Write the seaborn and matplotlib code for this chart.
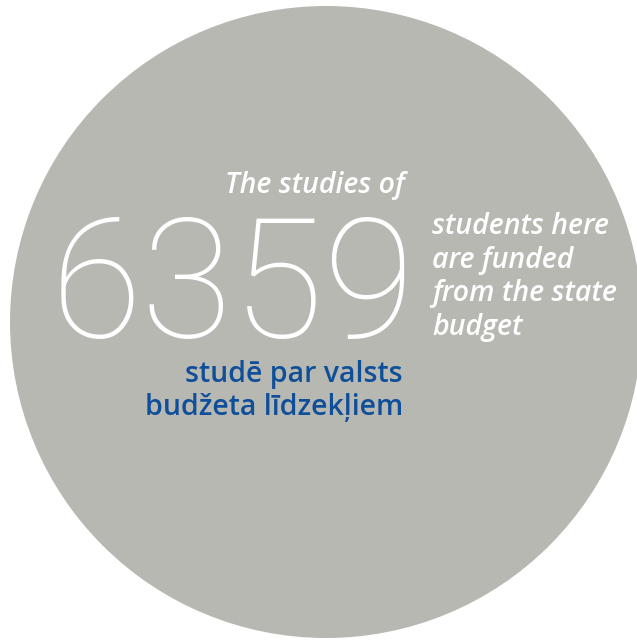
import matplotlib
matplotlib.use("Agg")
import matplotlib.pyplot as plt
from matplotlib.patches import Circle
import seaborn as sns

# dados do infográfico
count_value = 6359
intro_text = "The studies of"
english_lines = ["students here", "are funded", "from the state", "budget"]
latvian_lines = ["studē par valsts", "budžeta līdzekļiem"]

GRAY = "#b7b8b2"
BLUE = "#0f4f9a"


def main():
    sns.set_theme(style="white")
    plt.rcParams['font.family'] = ['Open Sans', 'DejaVu Sans']

    fig = plt.figure(figsize=(6.37, 6.40), dpi=100)
    ax = fig.add_axes([0, 0, 1, 1])
    ax.set_xlim(0, 637)
    ax.set_ylim(640, 0)
    ax.set_aspect('equal')
    ax.axis('off')

    ax.add_patch(Circle((326, 322), 316, color=GRAY, lw=0))

    ax.text(405, 193, intro_text, ha='right', va='baseline', color='white',
            fontsize=20.5, style='italic', fontweight='semibold')
    # número grande em fonte fina
    ax.text(233, 337, f"{count_value}", ha='center', va='baseline', color='white',
            fontsize=120, fontweight='light', family=['Roboto', 'DejaVu Sans'])

    for i, line in enumerate(english_lines):
        ax.text(432, 234 + i * 33.7, line, ha='left', va='baseline', color='white',
                fontsize=20.5, style='italic', fontweight='semibold')

    for i, line in enumerate(latvian_lines):
        ax.text(403, 382 + i * 33, line, ha='right', va='baseline', color=BLUE,
                fontsize=20.5, fontweight='semibold')

    fig.savefig("out.png", dpi=100)
    plt.close(fig)


if __name__ == "__main__":
    main()
